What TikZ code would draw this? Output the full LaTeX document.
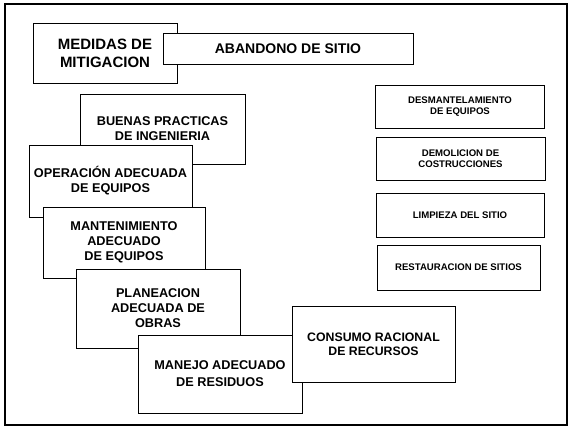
\documentclass[tikz,border=0pt]{standalone}
\usepackage{fontspec}
\setmainfont{Liberation Sans}
\begin{document}
\begin{tikzpicture}[x=1pt,y=-1pt,
  bx/.style={draw=black, fill=white, line width=0.9pt, align=center, inner sep=0pt,
    font=\fontsize{12.7}{15}\selectfont\bfseries},
  sbx/.style={draw=black, fill=white, line width=0.9pt, align=center, inner sep=0pt,
    font=\fontsize{9.6}{11}\selectfont\bfseries}]
\useasboundingbox (0,0) rectangle (570,427);
\draw[line width=1.5pt] (5,4) rectangle (567,425);
% left cascade
\node[bx, minimum width=144pt, minimum height=60pt, font=\fontsize{15}{18}\selectfont\bfseries] (medidas) at (105,53) {MEDIDAS DE\\ MITIGACION};
\node[bx, minimum width=250pt, minimum height=31pt, font=\fontsize{14}{15}\selectfont\bfseries] (abandono) at (288,48.5) {ABANDONO DE SITIO};
\node[bx, minimum width=165pt, minimum height=70pt] (buenas) at (162.5,129) {BUENAS PRACTICAS\\ DE INGENIERIA};
\node[bx, minimum width=163pt, minimum height=72pt] (operacion) at (110.5,181) {OPERACIÓN ADECUADA\\ DE EQUIPOS};
\node[bx, minimum width=162pt, minimum height=71pt] (mantenimiento) at (124,242.5) {MANTENIMIENTO\\ ADECUADO\\ DE EQUIPOS};
\node[bx, minimum width=164pt, minimum height=79pt] (planeacion) at (158,308.5) {PLANEACION\\ ADECUADA DE\\ OBRAS};
\node[bx, minimum width=164pt, minimum height=78pt, font=\fontsize{12.7}{17}\selectfont\bfseries] (manejo) at (220,374) {MANEJO ADECUADO\\ DE RESIDUOS};
\node[bx, minimum width=163pt, minimum height=76pt, font=\fontsize{12.3}{14}\selectfont\bfseries] (consumo) at (373.5,344) {CONSUMO RACIONAL\\ DE RECURSOS};
% right column
\node[sbx, minimum width=169pt, minimum height=43pt] (desmantelamiento) at (460,106.5) {DESMANTELAMIENTO\\ DE EQUIPOS};
\node[sbx, minimum width=169pt, minimum height=43pt] (demolicion) at (460.5,158.5) {DEMOLICION DE\\ COSTRUCCIONES};
\node[sbx, minimum width=168pt, minimum height=44pt] (limpieza) at (460,215) {LIMPIEZA DEL SITIO};
\node[sbx, minimum width=163pt, minimum height=45pt] (restauracion) at (458.5,267.5) {RESTAURACION DE SITIOS};
\end{tikzpicture}
\end{document}
